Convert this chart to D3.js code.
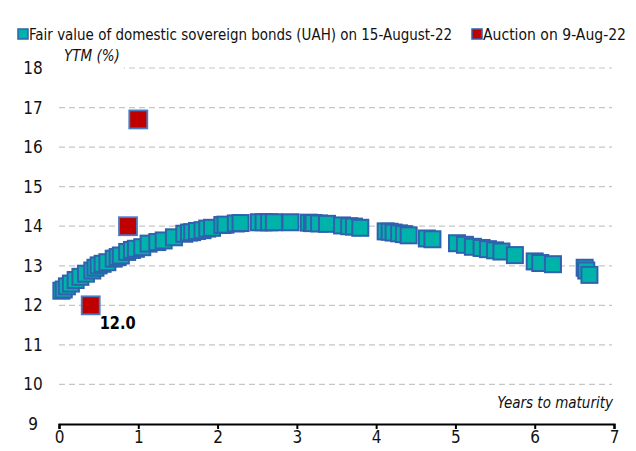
<!DOCTYPE html>
<html>
<head>
<meta charset="utf-8">
<script src="https://cdn.jsdelivr.net/npm/d3@7/dist/d3.min.js"></script>
<style>
  html, body { margin: 0; padding: 0; background: #fff; }
  svg { display: block; font-family: "Liberation Sans Narrow", "Arial Narrow", "DejaVu Sans", sans-serif; font-stretch: condensed; }
</style>
</head>
<body>
<svg id="chart" width="636" height="451"></svg>
<script>
// Fair value curve of UAH domestic sovereign bonds (years to maturity, YTM %)
const fairYears = [0.03, 0.06, 0.10, 0.15, 0.21, 0.27, 0.34, 0.42, 0.46, 0.50, 0.55, 0.61, 0.69, 0.74, 0.78, 0.86, 0.92, 0.97, 1.05, 1.13, 1.24, 1.32, 1.45, 1.58, 1.64, 1.68, 1.74, 1.81, 1.87, 1.93, 2.06, 2.10, 2.23, 2.29, 2.52, 2.58, 2.65, 2.71, 2.92, 3.15, 3.19, 3.21, 3.28, 3.38, 3.57, 3.66, 3.72, 3.80, 4.12, 4.17, 4.22, 4.29, 4.35, 4.41, 4.64, 4.71, 5.02, 5.12, 5.22, 5.33, 5.41, 5.50, 5.58, 5.75, 6.00, 6.07, 6.23, 6.63, 6.65, 6.69];
const fairYtm = [12.37, 12.40, 12.48, 12.55, 12.64, 12.72, 12.80, 12.88, 12.95, 13.01, 13.05, 13.09, 13.18, 13.22, 13.26, 13.35, 13.40, 13.43, 13.47, 13.56, 13.60, 13.64, 13.72, 13.81, 13.84, 13.85, 13.88, 13.90, 13.94, 13.96, 14.03, 14.04, 14.07, 14.08, 14.10, 14.10, 14.10, 14.10, 14.10, 14.09, 14.08, 14.08, 14.07, 14.06, 14.02, 14.00, 13.99, 13.96, 13.87, 13.86, 13.84, 13.82, 13.80, 13.77, 13.69, 13.67, 13.57, 13.53, 13.48, 13.45, 13.42, 13.39, 13.36, 13.27, 13.11, 13.07, 13.04, 12.95, 12.88, 12.77];

// Auction results of 9 August 2022
const auctionYears = [0.40, 0.87, 1.00];
const auctionYtm = [12.0, 14.0, 16.7];
const auctionLabels = ["12.0", "", ""];

const yTicks = [9, 10, 11, 12, 13, 14, 15, 16, 17, 18];
const xTicks = [0, 1, 2, 3, 4, 5, 6, 7];
const legendItems = ["Fair value of domestic sovereign bonds (UAH) on 15-August-22", "Auction on 9-Aug-22"];

const svg = d3.select("#chart");
const x = d3.scaleLinear().domain([0, 7]).range([59, 614]);
const y = d3.scaleLinear().domain([9, 18]).range([424, 68]);

const teal = "#00b3aa", red = "#c00000", edge = "#2f62ae";
const fontStack = "\"Liberation Sans Narrow\", \"Arial Narrow\", \"DejaVu Sans\", sans-serif";

// dashed horizontal gridlines
svg.append("g").selectAll("line")
  .data(yTicks.filter(t => t > 9))
  .join("line")
  .attr("x1", x(0)).attr("x2", x(7) - 2)
  .attr("y1", d => y(d)).attr("y2", d => y(d))
  .attr("stroke", "#c6c6c6").attr("stroke-width", 1.2)
  .attr("stroke-dasharray", "6,4");

// y tick labels
svg.append("g").selectAll("text")
  .data(yTicks)
  .join("text")
  .attr("x", 33).attr("y", d => y(d) + 6)
  .attr("text-anchor", "middle")
  .attr("font-size", 17).attr("fill", "#111")
  .text(d => d);

// x axis
const xAxis = d3.axisBottom(x).tickValues(xTicks).tickSize(5).tickFormat(d3.format("d"));
const gx = svg.append("g").attr("transform", `translate(0,${y(9)})`).call(xAxis);
gx.attr("font-family", null).attr("font-size", null);
gx.select(".domain").attr("stroke", "#000").attr("stroke-width", 2.2);
gx.selectAll(".tick line").attr("stroke", "#000").attr("stroke-width", 2);
gx.selectAll(".tick text").attr("font-size", 17).attr("fill", "#111").attr("dy", "0.75em").attr("y", 6)
  .attr("font-family", fontStack);

// axis titles; the y title sits on a white patch that interrupts the top gridline
const ytmPatch = svg.append("rect").attr("fill", "#fff");
const ytmLabel = svg.append("text")
  .attr("x", 64).attr("y", 61)
  .attr("font-size", 15).attr("font-style", "italic").attr("fill", "#111")
  .text("YTM (%)");
const bb = ytmLabel.node().getBBox();
ytmPatch.attr("x", bb.x - 6).attr("y", y(18) - 4).attr("width", bb.width + 10).attr("height", 8);

svg.append("text")
  .attr("x", 613).attr("y", 408)
  .attr("text-anchor", "end")
  .attr("font-size", 15).attr("font-style", "italic").attr("fill", "#111")
  .text("Years to maturity");

// fair value markers
const tSize = 16;
svg.append("g").selectAll("rect")
  .data(fairYears.map((d, i) => ({ t: d, v: fairYtm[i] })))
  .join("rect")
  .attr("x", d => x(d.t) - tSize / 2).attr("y", d => y(d.v) - tSize / 2)
  .attr("width", tSize).attr("height", tSize)
  .attr("fill", teal).attr("stroke", edge).attr("stroke-width", 2);

// auction markers
const rSize = 18;
const auctions = auctionYears.map((d, i) => ({ t: d, v: auctionYtm[i], label: auctionLabels[i] }));
svg.append("g").selectAll("rect")
  .data(auctions)
  .join("rect")
  .attr("x", d => x(d.t) - rSize / 2).attr("y", d => y(d.v) - rSize / 2)
  .attr("width", rSize).attr("height", rSize)
  .attr("fill", red).attr("stroke", "#4a7cc4").attr("stroke-width", 1.8);

svg.append("g").selectAll("text")
  .data(auctions.filter(d => d.label))
  .join("text")
  .attr("x", d => x(d.t) + 9).attr("y", d => y(d.v) + 24)
  .attr("font-size", 18).attr("font-weight", "bold").attr("fill", "#000")
  .attr("textLength", 36).attr("lengthAdjust", "spacingAndGlyphs")
  .text(d => d.label);

// legend
const legend = svg.append("g");
const lg1 = legend.append("g");
lg1.append("rect").attr("x", 18).attr("y", 29).attr("width", 10).attr("height", 10)
  .attr("fill", teal).attr("stroke", edge).attr("stroke-width", 1.5);
lg1.append("text").attr("x", 29).attr("y", 40).attr("font-size", 15.5).attr("fill", "#111")
  .attr("textLength", 423).attr("lengthAdjust", "spacingAndGlyphs").text(legendItems[0]);
const lg2 = legend.append("g");
lg2.append("rect").attr("x", 472).attr("y", 29).attr("width", 10).attr("height", 10)
  .attr("fill", red).attr("stroke", edge).attr("stroke-width", 1.5);
lg2.append("text").attr("x", 483).attr("y", 40).attr("font-size", 15.5).attr("fill", "#111")
  .attr("textLength", 143).attr("lengthAdjust", "spacingAndGlyphs").text(legendItems[1]);
</script>
</body>
</html>
